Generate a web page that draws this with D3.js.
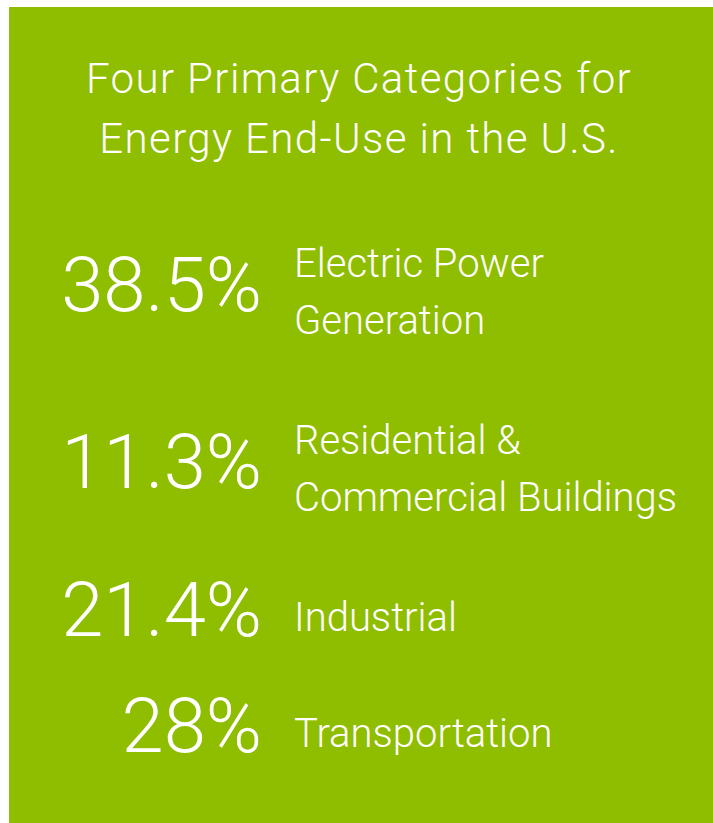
<!DOCTYPE html>
<html>
<head>
<meta charset="utf-8">
<script src="https://cdn.jsdelivr.net/npm/d3@7"></script>
<style>
  html, body { margin: 0; padding: 0; background: #fff; }
  svg text { font-family: Roboto, "Open Sans", sans-serif; font-weight: 300; fill: #fff; }
</style>
</head>
<body>
<div id="chart"></div>
<script>
const titleLines = ["Four Primary Categories for", "Energy End-Use in the U.S."];
const categories = [
  ["Electric Power", "Generation"],
  ["Residential &", "Commercial Buildings"],
  ["Industrial"],
  ["Transportation"]
];
const shares = ["38.5%", "11.3%", "21.4%", "28%"];

const width = 713, height = 823;
const bg = "#8fbd00";

const svg = d3.select("#chart").append("svg")
  .attr("width", width)
  .attr("height", height);

svg.append("rect")
  .attr("x", 9).attr("y", 7)
  .attr("width", width - 9).attr("height", height - 7)
  .attr("fill", bg);

// title
svg.append("g").selectAll("text")
  .data(titleLines)
  .enter()
  .append("text")
  .attr("x", 359)
  .attr("y", (d, i) => 93 + i * 60)
  .attr("text-anchor", "middle")
  .style("font-size", "42px")
  .style("letter-spacing", "1.4px")
  .text(d => d);

// rows: lines inside a row are 57px apart, rows advance 61px per line + 55
const lineH = 57, perLine = 61, rowGap = 55;
let acc = 277;
const rows = categories.map((lines, i) => {
  const r = {lines: lines, share: shares[i], y0: acc};
  acc += lines.length * perLine + rowGap;
  return r;
});

const row = svg.append("g").selectAll("g")
  .data(rows)
  .enter()
  .append("g")
  .attr("transform", d => "translate(0," + d.y0 + ")");

row.append("text")
  .attr("x", 262)
  .attr("y", d => (d.lines.length - 1) * lineH / 2 + 5)
  .attr("text-anchor", "end")
  .style("font-size", "76px")
  .text(d => d.share);

row.selectAll("text.lab")
  .data(d => d.lines)
  .enter()
  .append("text")
  .attr("class", "lab")
  .attr("x", 294)
  .attr("y", (d, i) => i * lineH)
  .style("font-size", "40px")
  .text(d => d);
</script>
</body>
</html>
